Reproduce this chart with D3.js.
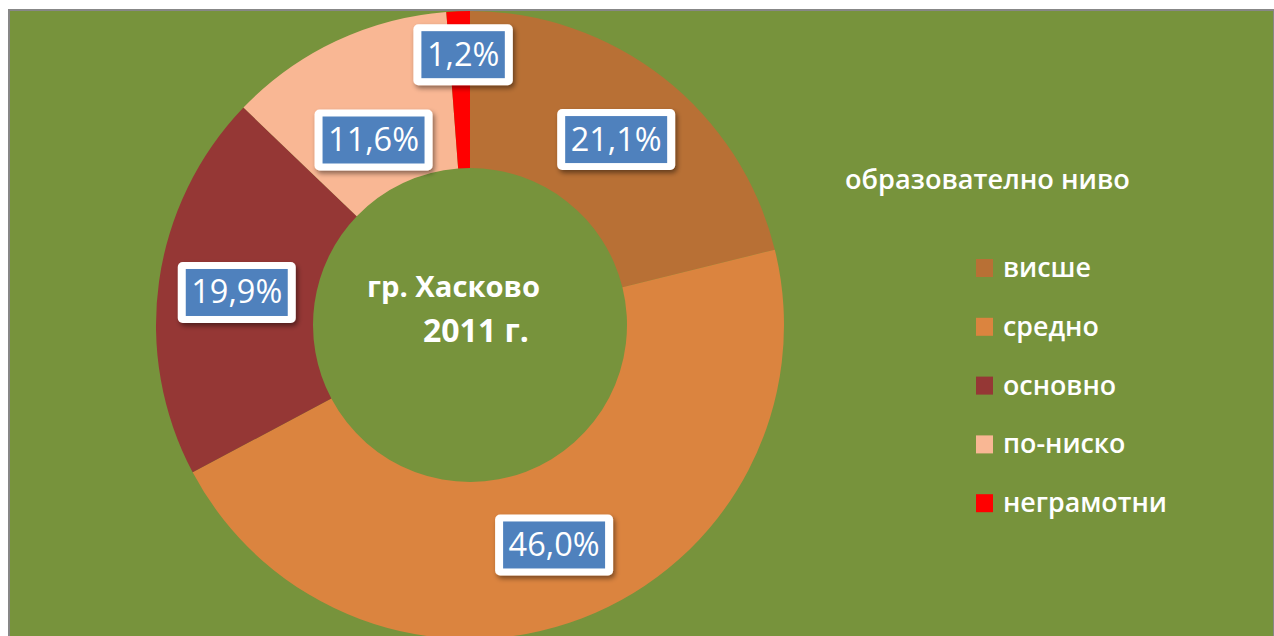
<!DOCTYPE html>
<html lang="bg">
<head>
<meta charset="utf-8">
<title>Образователно ниво - гр. Хасково 2011 г.</title>
<script src="https://cdn.jsdelivr.net/npm/d3@7"></script>
<style>
  html, body { margin: 0; padding: 0; background: #ffffff; }
  svg { display: block; }
</style>
</head>
<body>
<script>
// data
var categories = ["висше", "средно", "основно", "по-ниско", "неграмотни"];
var shares = [21.1, 46.0, 19.9, 11.6, 1.2];
var labels = ["21,1%", "46,0%", "19,9%", "11,6%", "1,2%"];
var colors = ["#B87035", "#DB843F", "#953735", "#F9B794", "#FF0000"];

var legendTitle = "образователно ниво";
var centerLines = ["гр. Хасково", "2011 г."];

var w = 1274, h = 636;
var cx = 470, cy = 325;
var outerR = 314, innerR = 157;

var svg = d3.select("body").append("svg")
  .attr("width", w)
  .attr("height", h);

// scale font-size of a text node so it gets a given width
function fitWidth(sel, target) {
  var size = parseFloat(sel.attr("font-size"));
  var len = sel.node().getComputedTextLength();
  sel.attr("font-size", (size * target / len).toFixed(2) + "px");
}

var defs = svg.append("defs");
var f = defs.append("filter").attr("id", "shadow")
  .attr("x", "-20%").attr("y", "-20%").attr("width", "150%").attr("height", "160%");
f.append("feDropShadow")
  .attr("dx", 2).attr("dy", 3).attr("stdDeviation", 2.5)
  .attr("flood-color", "#000").attr("flood-opacity", 0.45);

defs.append("clipPath").attr("id", "plot")
  .append("rect").attr("x", 10).attr("y", 11).attr("width", w - 10).attr("height", h - 11);

// frame
svg.append("rect").attr("x", 8).attr("y", 9).attr("width", w - 8).attr("height", h - 9)
  .attr("fill", "#878787");
svg.append("rect").attr("x", 10).attr("y", 11).attr("width", w - 11).attr("height", h - 11)
  .attr("fill", "#77933C");

// donut
var pie = d3.pie().sort(null).value(function(d) { return d; });
var arcs = pie(shares);
var arc = d3.arc().innerRadius(innerR).outerRadius(outerR);

var g = svg.append("g").attr("clip-path", "url(#plot)")
  .append("g").attr("transform", "translate(" + cx + "," + cy + ")");

g.selectAll("path")
  .data(arcs)
  .enter()
  .append("path")
  .attr("d", arc)
  .attr("fill", function(d, i) { return colors[i]; });

// data labels
var labelArc = d3.arc().innerRadius((innerR + outerR) / 2).outerRadius((innerR + outerR) / 2);
//small slices get pushed a bit (like excel does)
var nudge = { 0: [1, 0], 3: [4, 28], 4: [2, -35] };

// one font size for all labels, "46,0%" should be ~91px wide
var probe = svg.append("text").text(labels[1])
  .attr("font-family", "'Open Sans', sans-serif").attr("font-size", "27px");
fitWidth(probe, 91);
var labelSize = probe.attr("font-size");
probe.remove();

var lab = g.selectAll("g.lab")
  .data(arcs)
  .enter()
  .append("g")
  .attr("class", "lab")
  .attr("transform", function(d, i) {
    var c = labelArc.centroid(d);
    var n = nudge[i] || [0, 0];
    return "translate(" + (c[0] + n[0]) + "," + (c[1] + n[1]) + ")";
  });

lab.each(function(d, i) {
  var el = d3.select(this);
  var t = el.append("text")
    .text(labels[i])
    .attr("text-anchor", "middle")
    .attr("y", 11)
    .attr("font-family", "'Open Sans', sans-serif")
    .attr("font-size", labelSize)
    .attr("fill", "#ffffff");
  var bw = t.node().getComputedTextLength() + 11;
  var bh = 47;
  el.insert("rect", "text")
    .attr("x", -bw / 2 - 8).attr("y", -bh / 2 - 7)
    .attr("width", bw + 16).attr("height", bh + 14)
    .attr("rx", 5)
    .attr("fill", "#ffffff")
    .attr("filter", "url(#shadow)");
  el.insert("rect", "text")
    .attr("x", -bw / 2).attr("y", -bh / 2)
    .attr("width", bw).attr("height", bh)
    .attr("fill", "#4F81BD");
});

// center text
var c1 = svg.append("text")
  .attr("x", 367).attr("y", 297)
  .attr("font-family", "'Open Sans', sans-serif")
  .attr("font-weight", "bold")
  .attr("font-size", "27px")
  .attr("fill", "#ffffff")
  .text(centerLines[0]);
fitWidth(c1, 173);
var c2 = svg.append("text")
  .attr("x", 423).attr("y", 342)
  .attr("font-family", "'Open Sans', sans-serif")
  .attr("font-weight", "bold")
  .attr("font-size", c1.attr("font-size"))
  .attr("fill", "#ffffff")
  .text(centerLines[1]);
fitWidth(c2, 106);

// legend
var lt = svg.append("text")
  .attr("x", 845).attr("y", 189)
  .attr("font-family", "'Open Sans', sans-serif")
  .attr("font-weight", "600")
  .attr("font-size", "22px")
  .attr("fill", "#ffffff")
  .text(legendTitle);
fitWidth(lt, 285);

var legend = svg.selectAll("g.leg")
  .data(categories)
  .enter()
  .append("g")
  .attr("class", "leg")
  .attr("transform", function(d, i) { return "translate(976," + (268 + i * 58.8) + ")"; });

legend.append("rect")
  .attr("x", 0).attr("y", -9)
  .attr("width", 17).attr("height", 18)
  .attr("fill", function(d, i) { return colors[i]; });

var lx = legend.append("text")
  .attr("x", 27).attr("y", 9)
  .attr("font-family", "'Open Sans', sans-serif")
  .attr("font-weight", "600")
  .attr("font-size", "25px")
  .attr("fill", "#ffffff")
  .text(function(d) { return d; });
// size from the longest item
var longest = lx.filter(function(d, i) { return i === categories.length - 1; });
fitWidth(longest, 164);
lx.attr("font-size", longest.attr("font-size"));
</script>
</body>
</html>
